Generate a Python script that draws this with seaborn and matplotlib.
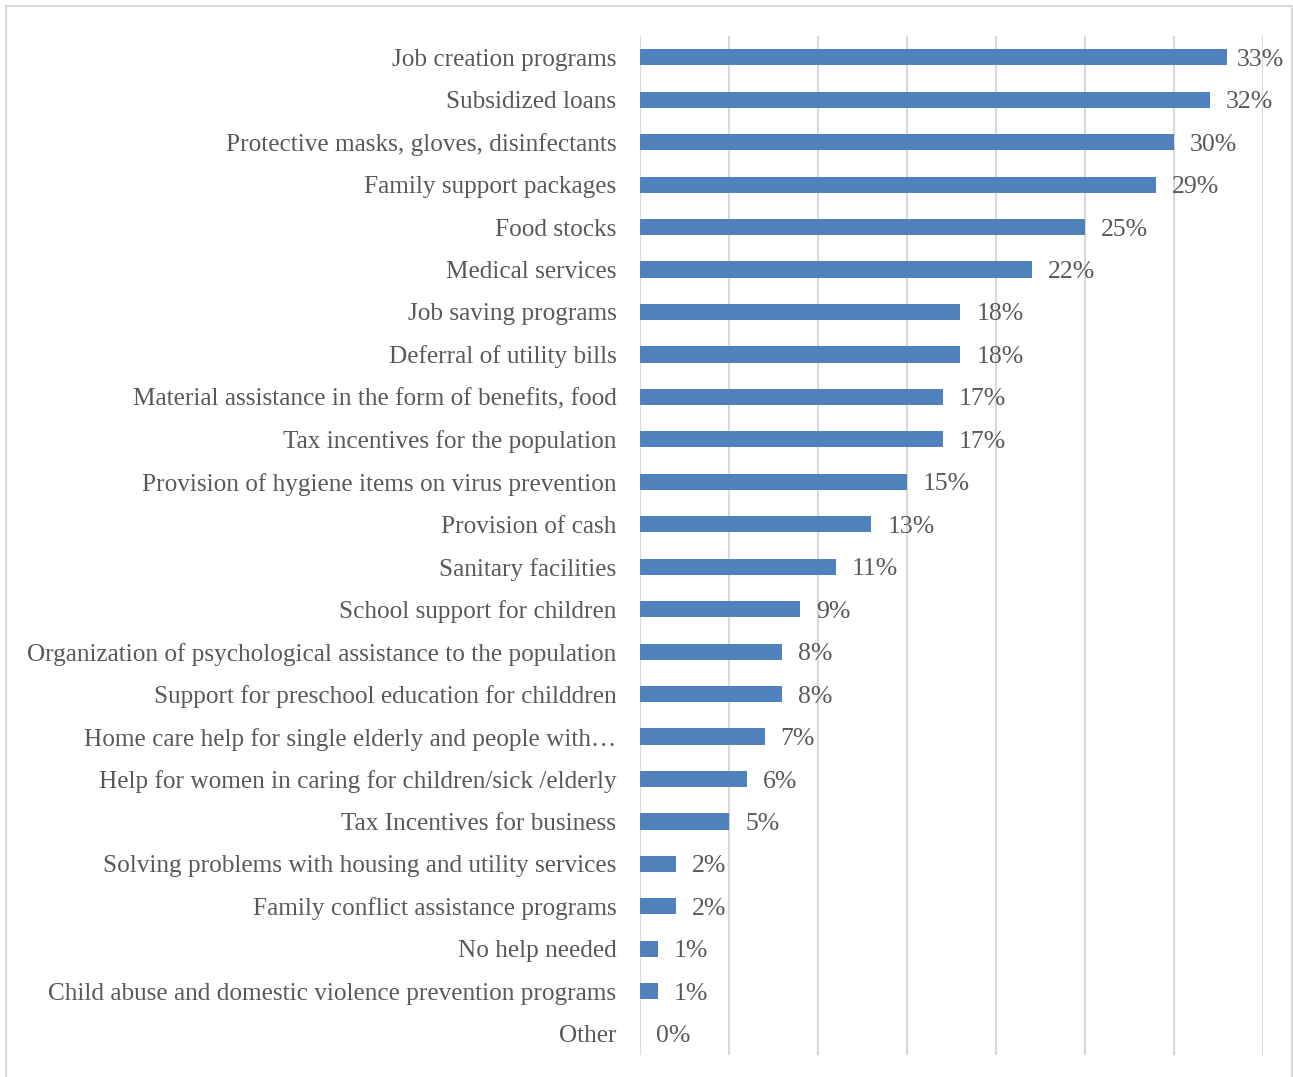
import matplotlib
matplotlib.use("Agg")
import matplotlib.pyplot as plt
import seaborn as sns
import pandas as pd
from matplotlib.patches import Rectangle

categories = [
    "Job creation programs",
    "Subsidized loans",
    "Protective masks, gloves, disinfectants",
    "Family support packages",
    "Food stocks",
    "Medical services",
    "Job saving programs",
    "Deferral of utility bills",
    "Material assistance in the form of benefits, food",
    "Tax incentives for the population",
    "Provision of hygiene items on virus prevention",
    "Provision of cash",
    "Sanitary facilities",
    "School support for children",
    "Organization of psychological assistance to the population",
    "Support for preschool education for childdren",
    "Home care help for single elderly and people with…",
    "Help for women in caring for children/sick /elderly",
    "Tax Incentives for business",
    "Solving problems with housing and utility services",
    "Family conflict assistance programs",
    "No help needed",
    "Child abuse and domestic violence prevention programs",
    "Other",
]
values = [33, 32, 30, 29, 25, 22, 18, 18, 17, 17, 15, 13, 11, 9, 8, 8, 7, 6, 5, 2, 2, 1, 1, 0]
x_max = 35
grid_ticks = [0, 5, 10, 15, 20, 25, 30, 35]

df = pd.DataFrame({"category": categories, "value": values})

sns.set_theme(style="white")
plt.rcParams["font.family"] = ["Liberation Serif", "DejaVu Serif"]

text_color = "#595959"
bar_color = "#4F81BD"
grid_color = "#D9D9D9"

fig = plt.figure(figsize=(12.93, 10.77), dpi=100)
ax = fig.add_axes([640 / 1293, 1 - 1055 / 1077, (1263 - 640) / 1293, (1055 - 36) / 1077])

sns.barplot(data=df, x="value", y="category", orient="h", color=bar_color,
            saturation=1, width=0.38, ax=ax, edgecolor="none")

ax.set_xlim(0, x_max)
ax.set_ylim(len(categories) - 0.5, -0.5)
ax.set_xticks(grid_ticks)
ax.set_xticklabels([])
ax.tick_params(axis="x", length=0)
ax.tick_params(axis="y", length=0, pad=17, labelsize=18.2, labelcolor=text_color)
for lbl in ax.get_yticklabels():
    lbl.set_verticalalignment("center_baseline")
ax.set_xlabel("")
ax.set_ylabel("")
for x in grid_ticks:
    ax.axvline(x, color=grid_color, lw=1.5, zorder=0)
for side in ["top", "right", "bottom", "left"]:
    ax.spines[side].set_visible(False)

# value labels sit just past each bar, kept inside the chart frame
for i, v in enumerate(values):
    ax.text(min(v + 0.9, x_max - 1.45), i, f"{v}%", va="center_baseline", ha="left",
            fontsize=18.5, color=text_color)

# light frame around the chart area
fig.patches.append(Rectangle((6 / 1293, -0.01), (1292 - 6) / 1293, 1 - 6 / 1077 + 0.01,
                             transform=fig.transFigure, fill=False,
                             edgecolor="#D9D9D9", lw=1.5))

fig.savefig("out.png", dpi=100)
